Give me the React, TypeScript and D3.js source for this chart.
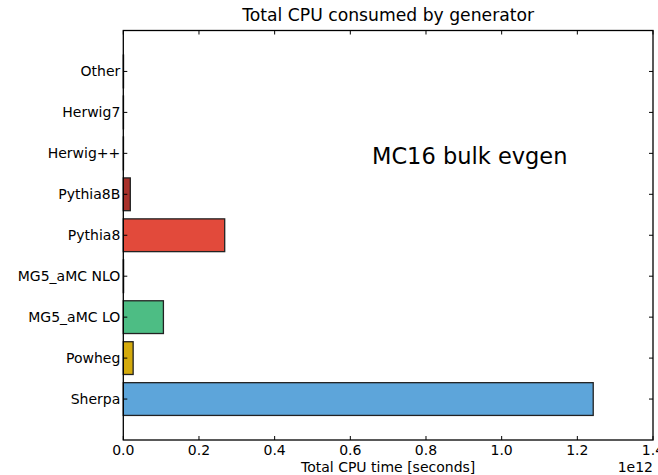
import React from "react";
import * as d3 from "d3";

const categories = ["Sherpa", "Powheg", "MG5_aMC LO", "MG5_aMC NLO", "Pythia8", "Pythia8B", "Herwig++", "Herwig7", "Other"];
const values = [1.242e12, 0.026e12, 0.106e12, 0.0008e12, 0.268e12, 0.0185e12, 0.0005e12, 0.0005e12, 0.0006e12];
const colors = ["#5DA5DA", "#D4AA0C", "#4DBD84", "#9B59B6", "#E24A3B", "#A8312A", "#888888", "#888888", "#888888"];
const xTicks = [0, 0.2e12, 0.4e12, 0.6e12, 0.8e12, 1.0e12, 1.2e12, 1.4e12];

const W = 658, H = 475;
const left = 123.3, right = 653, top = 30.5, bottom = 440;
const font = "DejaVu Sans, sans-serif";

export default function App() {
  const x = d3.scaleLinear().domain([0, 1.4e12]).range([left, right]);
  const y = d3.scaleLinear().domain([-1, 9]).range([bottom, top]);
  const bh = y(0) - y(0.8);
  const yTicks = d3.range(categories.length);
  return (
    <svg width={W} height={H} style={{ position: "absolute", left: 0, top: 0 }} fontFamily={font}>
      <rect x={0} y={0} width={W} height={H} fill="#fff" />
      {values.map((v, i) => (
        <rect key={i} x={x(0)} y={y(i + 0.4)} width={Math.max(0, x(v) - x(0))} height={bh}
          fill={colors[i]} stroke="#222" strokeWidth={1.3} />
      ))}
      <rect x={left} y={top} width={right - left} height={bottom - top} fill="none" stroke="#000" strokeWidth={1.3} />
      {xTicks.map((t, i) => (
        <g key={i}>
          <line x1={x(t)} x2={x(t)} y1={bottom} y2={bottom - 4} stroke="#000" />
          <line x1={x(t)} x2={x(t)} y1={top} y2={top + 4} stroke="#000" />
          <text x={x(t)} y={455} fontSize={14} textAnchor="middle" fill="#000">{(t / 1e12).toFixed(1)}</text>
        </g>
      ))}
      {yTicks.map((t) => (
        <g key={t}>
          <line x1={left} x2={left + 4} y1={y(t)} y2={y(t)} stroke="#000" />
          <line x1={right} x2={right - 4} y1={y(t)} y2={y(t)} stroke="#000" />
          <text x={left - 3} y={y(t)} dy="0.35em" fontSize={14} textAnchor="end" fill="#000">{categories[t]}</text>
        </g>
      ))}
      <text x={(left + right) / 2} y={21} fontSize={17.2} textAnchor="middle" fill="#000">Total CPU consumed by generator</text>
      <text x={(left + right) / 2} y={472} fontSize={14} textAnchor="middle" fill="#000">Total CPU time [seconds]</text>
      <text x={right} y={472} fontSize={14} textAnchor="end" fill="#000">1e12</text>
      <text x={372} y={164} fontSize={22.5} textAnchor="start" fill="#000">MC16 bulk evgen</text>
    </svg>
  );
}
